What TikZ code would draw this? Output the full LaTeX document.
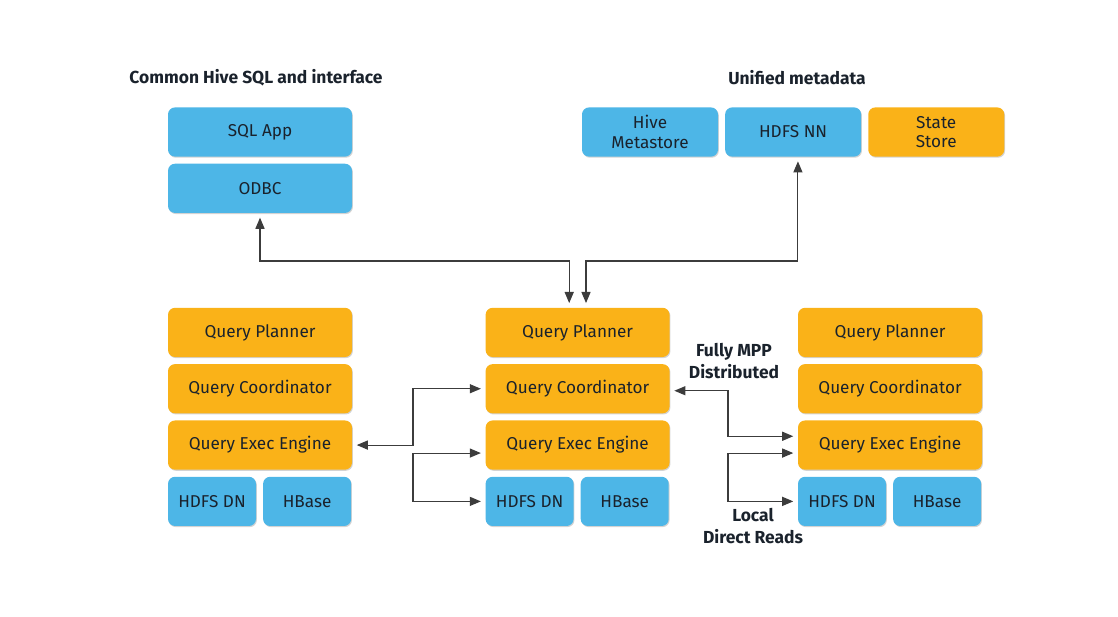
\documentclass[tikz,border=0pt]{standalone}
\usepackage{fontspec}
\setmainfont{Fira Sans}
\usepackage{xcolor}
\usepackage{tikz}
\usetikzlibrary{shadows,arrows,positioning,chains}

\definecolor{impblue}{HTML}{4DB6E7}
\definecolor{imporange}{HTML}{FAB218}
\definecolor{impline}{HTML}{3C3C3C}
\definecolor{imptext}{HTML}{1A222C}

\begin{document}
\begin{tikzpicture}
  \tikzstyle{every path}=[thick]
  \useasboundingbox (0,0) rectangle (27.95,-15.4);

  \edef\boxgap{0.15cm}
  \tikzstyle{tierbox}=[rounded corners=5pt,minimum height=1.23cm,text=imptext,font=\fontsize{12.2}{14}\selectfont,align=center,inner sep=2pt,drop shadow={shadow xshift=0.6pt,shadow yshift=-0.8pt,opacity=0.35}]
  \tikzstyle{widebox}=[tierbox,minimum width=4.6cm]
  \tikzstyle{halfbox}=[tierbox,minimum width=2.2cm]
  \tikzstyle{metabox}=[tierbox,minimum width=3.4cm]
  \tikzstyle{hdfs}=[fill=impblue]
  \tikzstyle{impala}=[fill=imporange]
  \tikzstyle{linkarrow}=[<->,>=triangle 45,draw=impline,shorten <=3pt,shorten >=3pt]
  \tikzstyle{caption}=[font=\bfseries\fontsize{12.4}{15}\selectfont,text=imptext,align=center]

  \node [caption] (hiveTitle) at (6.4,-1.95) {Common Hive SQL and interface};
  \node [caption] (metaTitle) at (19.925,-1.95) {Unified metadata};

  \begin{scope}[start chain=1 going below,node distance=\boxgap]
  \node [on chain=1,widebox,hdfs] at (6.5,-3.3) (sqlapp) {SQL App};
  \node [on chain=1,widebox,hdfs] (odbc) {ODBC};
  \end{scope}

  \begin{scope}[start chain=2 going right,node distance=0.15cm]
  \node [on chain=2,metabox,hdfs] at (16.25,-3.3) (metastore) {Hive\\Metastore};
  \node [on chain=2,metabox,hdfs] (hdfsnn) {HDFS NN};
  \node [on chain=2,metabox,impala] (statestore) {State\\Store};
  \end{scope}

  % left node
  \begin{scope}[start chain=3 going below,node distance=\boxgap]
  \node [on chain=3,widebox,impala] at (6.5,-8.31) (lPlan) {Query Planner};
  \node [on chain=3,widebox,impala] (lCoord) {Query Coordinator};
  \node [on chain=3,widebox,impala] (lExec) {Query Exec Engine};
  \end{scope}
  \node [halfbox,hdfs,below right=\boxgap and 0cm of lExec.south west] (lDN) {HDFS DN};
  \node [halfbox,hdfs,right=0.15cm of lDN] (lHBase) {HBase};

  % center node
  \begin{scope}[start chain=4 going below,node distance=\boxgap]
  \node [on chain=4,widebox,impala] at (14.44,-8.31) (cPlan) {Query Planner};
  \node [on chain=4,widebox,impala] (cCoord) {Query Coordinator};
  \node [on chain=4,widebox,impala] (cExec) {Query Exec Engine};
  \end{scope}
  \node [halfbox,hdfs,below right=\boxgap and 0cm of cExec.south west] (cDN) {HDFS DN};
  \node [halfbox,hdfs,right=0.15cm of cDN] (cHBase) {HBase};

  % right node
  \begin{scope}[start chain=5 going below,node distance=\boxgap]
  \node [on chain=5,widebox,impala] at (22.25,-8.31) (rPlan) {Query Planner};
  \node [on chain=5,widebox,impala] (rCoord) {Query Coordinator};
  \node [on chain=5,widebox,impala] (rExec) {Query Exec Engine};
  \end{scope}
  \node [halfbox,hdfs,below right=\boxgap and 0cm of rExec.south west] (rDN) {HDFS DN};
  \node [halfbox,hdfs,right=0.15cm of rDN] (rHBase) {HBase};

  \node [caption] (mpp) at (18.35,-9.025) {Fully MPP\\Distributed};
  \node [caption] (local) at (18.825,-13.15) {Local\\Direct Reads};

  \coordinate (bus) at (0,-6.525);
  \coordinate (jL) at (10.325,0);
  \coordinate (jR) at (18.2,0);
  \coordinate (plannerInL) at ([xshift=-0.21cm]cPlan.north);
  \coordinate (plannerInR) at ([xshift=0.21cm]cPlan.north);
  \coordinate (nnOut) at ([xshift=0.12cm]hdfsnn.south);
  \coordinate (cExecIn) at ([yshift=-0.2cm]cExec.west);
  \coordinate (cCoordOut) at ([yshift=-0.05cm]cCoord.east);
  \coordinate (rExecIn) at ([yshift=0.22cm]rExec.west);
  \coordinate (rExecLow) at ([yshift=-0.2cm]rExec.west);

  \draw [linkarrow] (odbc) -- (odbc |- bus) -| (plannerInL);
  \draw [linkarrow] (nnOut) -- (nnOut |- bus) -| (plannerInR);
  \draw [linkarrow] (lExec) -- (lExec -| jL) |- (cCoord);
  \draw [linkarrow] (cExecIn) -- (cExecIn -| jL) |- (cDN);
  \draw [linkarrow] (cCoordOut) -- (cCoordOut -| jR) |- (rExecIn);
  \draw [linkarrow] (rExecLow) -- (rExecLow -| jR) |- (rDN);
\end{tikzpicture}
\end{document}
